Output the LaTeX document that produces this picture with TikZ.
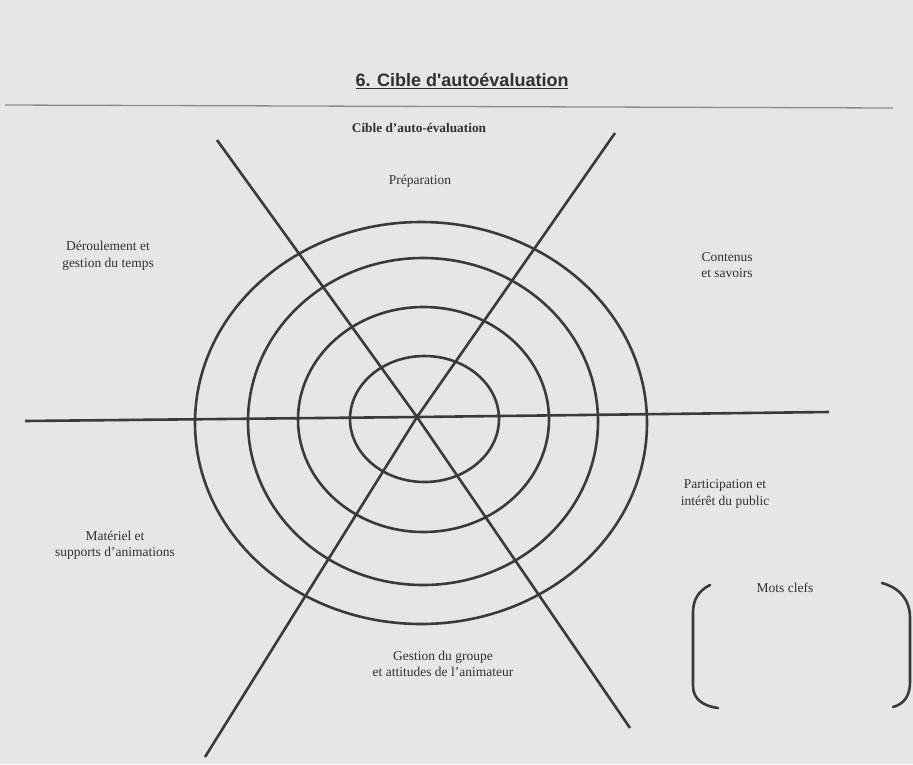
\documentclass[tikz,border=0pt]{standalone}
\usepackage{fontspec}
\setmainfont{Liberation Serif}
\newfontfamily\titlefont{Liberation Sans}
\definecolor{bgc}{HTML}{E6E6E8}
\definecolor{inkc}{HTML}{3A3A3C}
\definecolor{txtc}{HTML}{303032}
\definecolor{rulec}{HTML}{8C8C8E}
\begin{document}
\begin{tikzpicture}[x=1pt,y=-1pt,
  ink/.style={draw=inkc, line width=2.6pt},
  lbl/.style={font=\fontsize{13.5}{16.5}\selectfont, text=txtc, align=center, inner sep=0pt}]
\useasboundingbox (0,0) rectangle (913,764);
\fill[bgc] (0,0) rectangle (913,764);
% header
\node[font=\titlefont\bfseries\fontsize{18}{21}\selectfont, text=txtc, inner sep=0pt] (title) at (462,81) {\underline{6. Cible d'autoévaluation}};
\coordinate (rl) at (5,105);
\coordinate (rr) at (893,108);
\draw[rulec, line width=1.3pt] (rl) -- (rr);
\node[font=\bfseries\fontsize{13.3}{15}\selectfont, text=txtc, inner sep=0pt] (sub) at (419,128) {Cible d'auto-évaluation};
% target
\coordinate (c) at (417,417);
\draw[ink] (421,423) ellipse [x radius=226, y radius=201];
\draw[ink] (423,421.5) ellipse [x radius=175, y radius=163.5];
\draw[ink] (423.5,419.5) ellipse [x radius=125.5, y radius=112.5];
\draw[ink] (424.5,419) ellipse [x radius=74.5, y radius=63];
\coordinate (hl) at (25,421);
\coordinate (hr) at (829,412);
\coordinate (d1a) at (217,140);
\coordinate (d1b) at (630,728);
\coordinate (d2a) at (615,133);
\coordinate (d2b) at (205,757);
\draw[ink] (hl) -- (c) -- (hr);
\draw[ink] (d1a) -- (c) -- (d1b);
\draw[ink] (d2a) -- (c) -- (d2b);
% labels
\node[lbl] (prep) at (420,181) {Préparation};
\node[lbl] (der) at (108,256) {Déroulement et\\gestion du temps};
\node[lbl] (cont) at (727,265) {Contenus\\et savoirs};
\node[lbl] (part) at (725,494) {Participation et\\intérêt du public};
\node[lbl] (mat) at (115,545) {Matériel et\\supports d'animations};
\node[lbl] (gest) at (443,664) {Gestion du groupe\\et attitudes de l'animateur};
% keywords box
\node[lbl] (mots) at (785,588) {Mots clefs};
\draw[ink, line cap=round] (710,585) .. controls (698,591) and (693,600) .. (693,613) -- (693,686) .. controls (693,699) and (703,706) .. (718,708);
\draw[ink, line cap=round] (882,583) .. controls (900,588) and (910,600) .. (910,618) -- (910,682) .. controls (910,696) and (904,704) .. (893,707);
\end{tikzpicture}
\end{document}
